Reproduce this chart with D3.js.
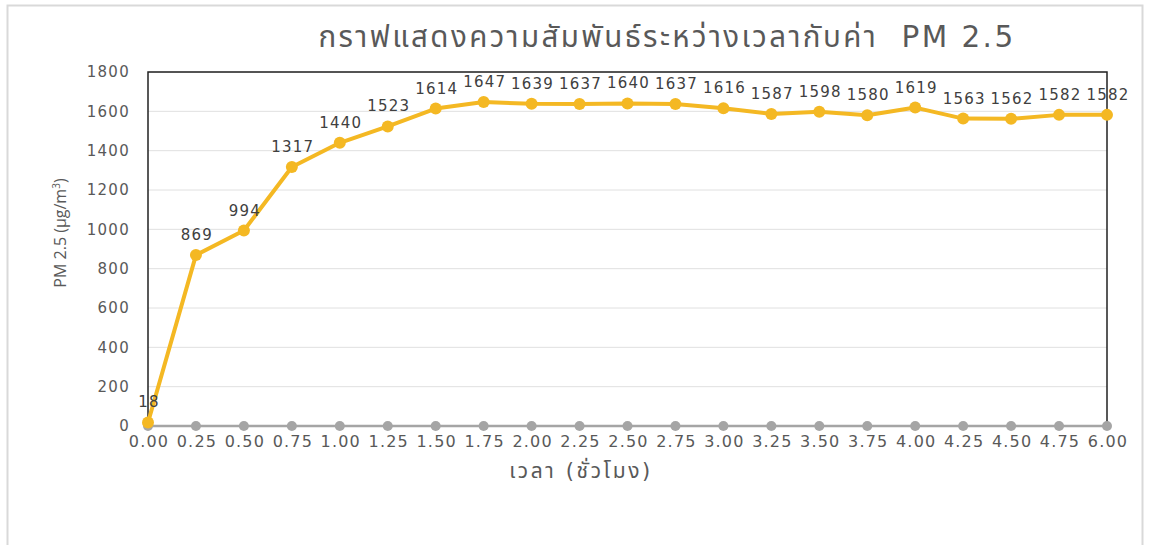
<!DOCTYPE html>
<html>
<head>
<meta charset="utf-8">
<script src="https://cdn.jsdelivr.net/npm/d3@7"></script>
<style>
  body { margin: 0; background: #fff; }
  text { font-family: "DejaVu Sans", "Noto Sans Thai", "Noto Sans", sans-serif; }
</style>
</head>
<body>
<svg id="chart" width="1149" height="545"></svg>
<script>
// time categories (hours) as labelled on the axis
const categories = ["0.00", "0.25", "0.50", "0.75", "1.00", "1.25", "1.50", "1.75", "2.00", "2.25", "2.50",
  "2.75", "3.00", "3.25", "3.50", "3.75", "4.00", "4.25", "4.50", "4.75", "6.00"];
// PM 2.5 readings
const pmValues = [18, 869, 994, 1317, 1440, 1523, 1614, 1647, 1639, 1637, 1640,
  1637, 1616, 1587, 1598, 1580, 1619, 1563, 1562, 1582, 1582];
// second (baseline) series, all zero
const baseValues = [0, 0, 0, 0, 0, 0, 0, 0, 0, 0, 0, 0, 0, 0, 0, 0, 0, 0, 0, 0, 0];
const yTicks = [0, 200, 400, 600, 800, 1000, 1200, 1400, 1600, 1800];

const titleText = "กราฟแสดงความสัมพันธ์ระหว่างเวลากับค่า\u00a0\u00a0PM 2.5";
const xTitle = "เวลา (ชั่วโมง)";

const svg = d3.select("#chart");

// outer chart border
svg.append("rect")
  .attr("x", 7.5).attr("y", 5.5)
  .attr("width", 1135).attr("height", 545)
  .attr("fill", "#fff")
  .attr("stroke", "#d9d9d9")
  .attr("stroke-width", 2);

const plot = { left: 148, top: 72, right: 1107, bottom: 426 };

const x = d3.scalePoint()
  .domain(categories)
  .range([plot.left, plot.right]);

const y = d3.scaleLinear()
  .domain([0, 1800])
  .range([plot.bottom, plot.top]);

// gridlines
svg.append("g")
  .selectAll("line")
  .data(yTicks)
  .enter()
  .append("line")
  .attr("x1", plot.left).attr("x2", plot.right)
  .attr("y1", (d) => y(d)).attr("y2", (d) => y(d))
  .attr("stroke", "#e0e0e0")
  .attr("stroke-width", 1);

// plot frame (left, top, right)
svg.append("path")
  .attr("d", `M${plot.left},${plot.bottom} V${plot.top} H${plot.right} V${plot.bottom}`)
  .attr("fill", "none")
  .attr("stroke", "#222")
  .attr("stroke-width", 1.5);

// y tick labels
svg.append("g")
  .selectAll("text")
  .data(yTicks)
  .enter()
  .append("text")
  .attr("x", 130)
  .attr("y", (d) => y(d))
  .attr("dy", "0.35em")
  .attr("text-anchor", "end")
  .attr("font-size", 15)
  .attr("letter-spacing", 1.3)
  .attr("fill", "#595959")
  .text((d) => d);

// x tick labels
svg.append("g")
  .selectAll("text")
  .data(categories)
  .enter()
  .append("text")
  .attr("x", (d) => x(d) + 1)
  .attr("y", 447)
  .attr("text-anchor", "middle")
  .attr("font-size", 16)
  .attr("letter-spacing", 1.2)
  .attr("fill", "#595959")
  .text((d) => d);

const line = d3.line()
  .x((d, i) => x(categories[i]))
  .y((d) => y(d));

// baseline grey series
svg.append("path")
  .datum(baseValues)
  .attr("d", line)
  .attr("fill", "none")
  .attr("stroke", "#a5a5a5")
  .attr("stroke-width", 2.5);

svg.append("g")
  .selectAll("circle")
  .data(baseValues)
  .enter()
  .append("circle")
  .attr("cx", (d, i) => x(categories[i]))
  .attr("cy", (d) => y(d))
  .attr("r", 5)
  .attr("fill", "#a5a5a5");

// PM 2.5 series
svg.append("path")
  .datum(pmValues)
  .attr("d", line)
  .attr("fill", "none")
  .attr("stroke", "#f4b823")
  .attr("stroke-width", 4)
  .attr("stroke-linejoin", "round");

svg.append("g")
  .selectAll("circle")
  .data(pmValues)
  .enter()
  .append("circle")
  .attr("cx", (d, i) => x(categories[i]))
  .attr("cy", (d) => y(d))
  .attr("r", 6)
  .attr("fill", "#f4b823");

// data labels
svg.append("g")
  .selectAll("text")
  .data(pmValues)
  .enter()
  .append("text")
  .attr("x", (d, i) => x(categories[i]) + 1)
  .attr("y", (d) => y(d) - 15)
  .attr("text-anchor", "middle")
  .attr("font-size", 15)
  .attr("letter-spacing", 1.2)
  .attr("fill", "#404040")
  .text((d) => d);

// chart title
svg.append("text")
  .attr("x", 667)
  .attr("y", 47)
  .attr("text-anchor", "middle")
  .attr("font-size", 29.5)
  .attr("letter-spacing", 2.4)
  .attr("fill", "#595959")
  .text(titleText);

// x axis title
svg.append("text")
  .attr("x", 581)
  .attr("y", 478)
  .attr("text-anchor", "middle")
  .attr("font-size", 21)
  .attr("letter-spacing", 2.6)
  .attr("fill", "#595959")
  .text(xTitle);

// y axis title
svg.append("text")
  .attr("transform", "translate(66,233) rotate(-90)")
  .attr("text-anchor", "middle")
  .attr("font-size", 16)
  .attr("fill", "#595959")
  .style("font-family", "'Liberation Sans Narrow', 'Open Sans', sans-serif")
  .html("PM 2.5 (μg/m<tspan dy='-6' font-size='10'>3</tspan><tspan dy='6'>)</tspan>");
</script>
</body>
</html>
